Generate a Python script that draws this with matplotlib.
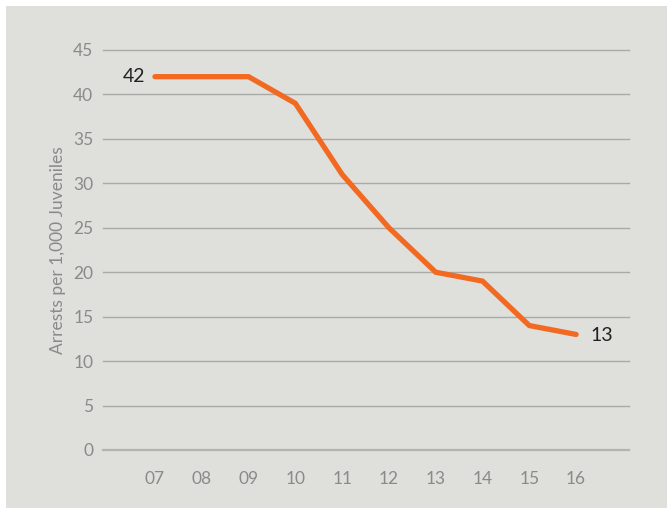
import matplotlib
matplotlib.use("Agg")
import matplotlib.pyplot as plt
from matplotlib.patches import Rectangle

years = ["07", "08", "09", "10", "11", "12", "13", "14", "15", "16"]
arrests = [42, 42, 42, 39, 31, 25, 20, 19, 14, 13]
y_ticks = [0, 5, 10, 15, 20, 25, 30, 35, 40, 45]

bg = "#dfdfdb"
orange = "#f26a21"
grid_col = "#a9a9a7"
tick_col = "#8a8a8a"

plt.rcParams["font.family"] = ["Lato", "DejaVu Sans"]

W, H = 667, 508
fig = plt.figure(figsize=(W / 100, H / 100), dpi=100, facecolor="white")
fig.patches.append(Rectangle((6 / W, 0), 1 - 6 / W, 1 - 6 / H,
                             transform=fig.transFigure, facecolor=bg,
                             edgecolor="none", zorder=-10))

ax = fig.add_axes([103 / W, 58 / H, 526 / W, 400 / H])
ax.set_facecolor("none")
ax.set_zorder(1)

x = list(range(len(years)))
ax.plot(x, arrests, color=orange, lw=3.8, solid_capstyle="round",
        solid_joinstyle="miter", zorder=3)

ax.set_xlim(-1.11, len(years) - 1 + 1.13)
ax.set_ylim(0, 45)
ax.set_yticks(y_ticks)
ax.set_xticks(x)
ax.set_xticklabels(years)

for v in y_ticks:
    ax.axhline(v, color="#b3b3b1" if v == 0 else grid_col,
               lw=1.6 if v == 0 else 1.0, zorder=1, clip_on=False)

for s in ax.spines.values():
    s.set_visible(False)

ax.tick_params(axis="both", length=0, labelsize=12.5, labelcolor=tick_col)
ax.tick_params(axis="y", pad=7)
ax.tick_params(axis="x", pad=15)

ax.set_ylabel("Arrests per 1,000 Juveniles", fontsize=12.5, color=tick_col,
              labelpad=5)

ax.annotate(str(arrests[0]), (x[0], arrests[0]), xytext=(-7, 0),
            textcoords="offset points", ha="right", va="center",
            fontsize=14, color="#222222")
ax.annotate(str(arrests[-1]), (x[-1], arrests[-1]), xytext=(10, -1),
            textcoords="offset points", ha="left", va="center",
            fontsize=14, color="#222222")

fig.savefig("out.png", dpi=100, facecolor="white")
